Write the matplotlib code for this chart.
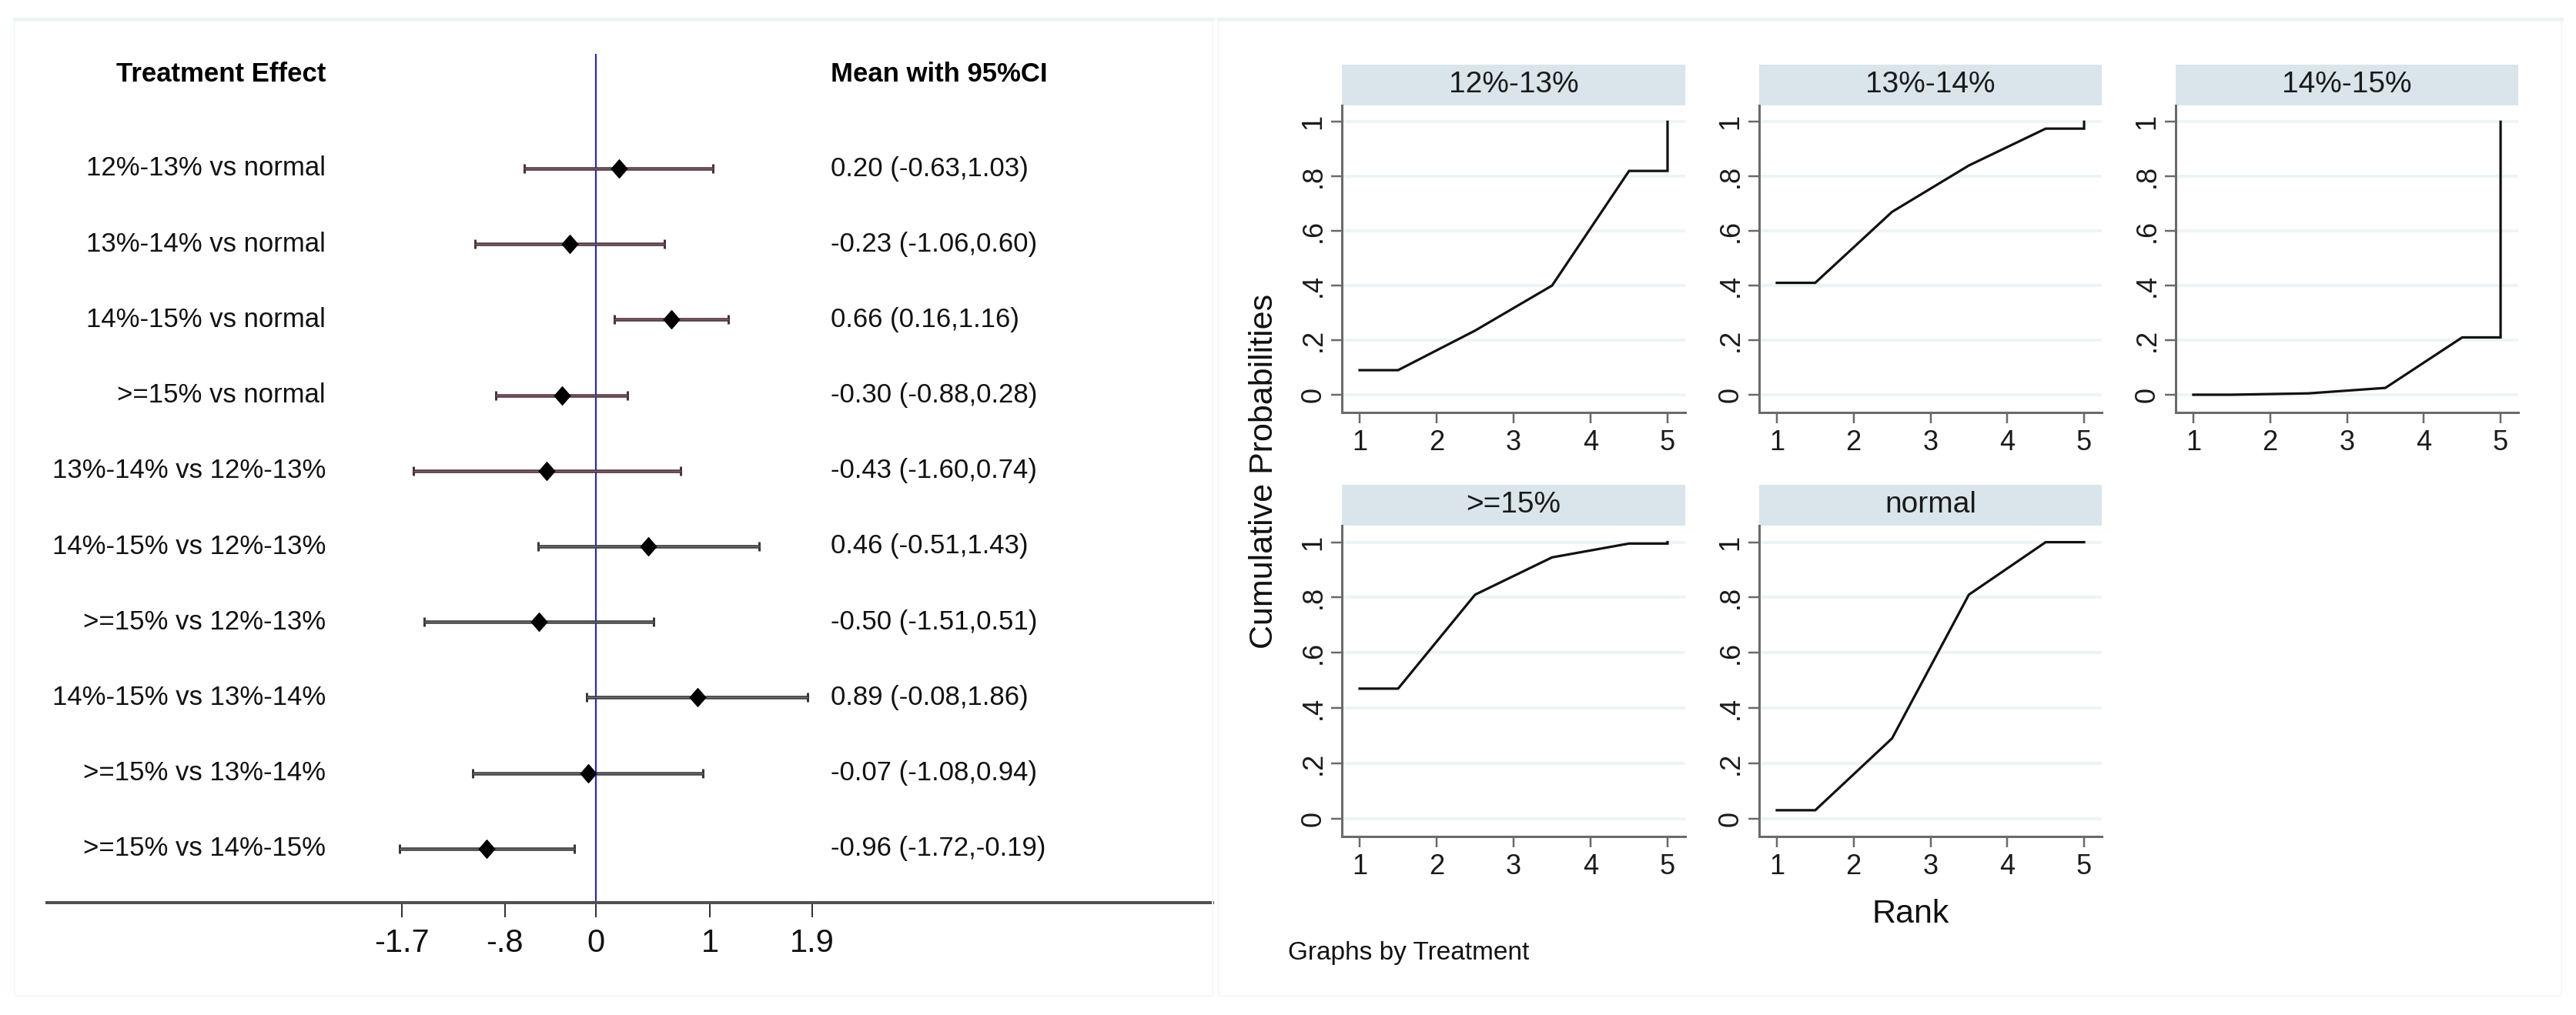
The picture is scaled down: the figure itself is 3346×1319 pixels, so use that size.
import numpy as np
import matplotlib
matplotlib.use("Agg")
import matplotlib.pyplot as plt
from matplotlib.patches import Rectangle
from matplotlib.path import Path

plt.rcParams["font.family"] = ["Liberation Sans", "DejaVu Sans"]

# Forest plot data (treatment effects, mean with 95% CI)
comparisons = [
    "12%-13% vs normal", "13%-14% vs normal", "14%-15% vs normal",
    ">=15% vs normal", "13%-14% vs 12%-13%", "14%-15% vs 12%-13%",
    ">=15% vs 12%-13%", "14%-15% vs 13%-14%", ">=15% vs 13%-14%",
    ">=15% vs 14%-15%",
]
mean = [0.20, -0.23, 0.66, -0.30, -0.43, 0.46, -0.50, 0.89, -0.07, -0.96]
lower = [-0.63, -1.06, 0.16, -0.88, -1.60, -0.51, -1.51, -0.08, -1.08, -1.72]
upper = [1.03, 0.60, 1.16, 0.28, 0.74, 1.43, 0.51, 1.86, 0.94, -0.19]
forest_ticks = [-1.7, -0.8, 0, 1, 1.9]
forest_tick_labels = ["-1.7", "-.8", "0", "1", "1.9"]

# Cumulative ranking probabilities (rank 1..5)
treatments = ["12%-13%", "13%-14%", "14%-15%", ">=15%", "normal"]
ranks = [1, 2, 3, 4, 5]
cum_prob = {
    "12%-13%": [0.09, 0.235, 0.40, 0.82, 1.0],
    "13%-14%": [0.41, 0.67, 0.84, 0.975, 1.0],
    "14%-15%": [0.0, 0.005, 0.025, 0.21, 1.0],
    ">=15%": [0.47, 0.81, 0.945, 0.995, 1.0],
    "normal": [0.03, 0.29, 0.81, 1.0, 1.0],
}
prob_ticks = [0, 0.2, 0.4, 0.6, 0.8, 1]
prob_tick_labels = ["0", ".2", ".4", ".6", ".8", "1"]

W, H = 3346, 1319
PT = 72 / 100  # points per pixel

fig = plt.figure(figsize=(W / 100, H / 100), dpi=100)
fig.patch.set_facecolor("white")


def rect(x0, y0, x1, y1):
    return [x0 / W, 1 - y1 / H, (x1 - x0) / W, (y1 - y0) / H]


# light panel borders
for x0, x1 in [(19, 1575), (1583, 3327)]:
    fig.patches.append(Rectangle((x0 / W, 1 - 1294 / H), (x1 - x0) / W, (1294 - 25) / H,
                                 transform=fig.transFigure, fill=False,
                                 edgecolor="#f3f8f8", lw=2 * PT))
    fig.add_artist(plt.Line2D([x0 / W, x1 / W], [1 - 25 / H, 1 - 25 / H],
                              transform=fig.transFigure, color="#edf4f4", lw=5 * PT))

# ---------------- Left: forest plot ----------------
ax = fig.add_axes(rect(61, 70, 1575, 1173))
ax.set_xlim((61 - 774) / 148, (1575 - 774) / 148)
ax.set_ylim((1173 - 219) / 98.2, (70 - 219) / 98.2)
ypos = np.arange(len(comparisons))

ax.axvline(0, color="#1a1aff", lw=2 * PT, zorder=1)

mean_a = np.array(mean)
err = [mean_a - np.array(lower), np.array(upper) - mean_a]
bar_colors = ["#4a3236"] * 5 + ["#383838"] * 5
for i in range(len(comparisons)):
    ax.errorbar(mean_a[i], ypos[i], xerr=[[err[0][i]], [err[1][i]]], fmt="none",
                ecolor=bar_colors[i], elinewidth=4.5 * PT, capsize=4,
                capthick=3 * PT, zorder=2)
inner = ["#8c6a70"] * 5 + ["#7a7a7a"] * 5
ax.hlines(ypos, lower, upper, colors=inner, lw=1.2 * PT, zorder=3)

diamond = Path([(0, 1), (0.87, 0), (0, -1), (-0.87, 0), (0, 1)],
               [Path.MOVETO, Path.LINETO, Path.LINETO, Path.LINETO, Path.CLOSEPOLY])
ax.plot(mean, ypos, linestyle="none", marker=diamond, markersize=17,
        color="black", zorder=4)

label_x = (423 - 774) / 148
value_x = (1079 - 774) / 148
fs = 25
for i, name in enumerate(comparisons):
    ax.text(label_x, i, name, ha="right", va="center", fontsize=fs, color="#111111")
    ax.text(value_x, i, f"{mean[i]:.2f} ({lower[i]:.2f},{upper[i]:.2f})",
            ha="left", va="center", fontsize=fs, color="#111111")
header_y = (97 - 219) / 98.2
ax.text(label_x, header_y, "Treatment Effect", ha="right", va="center",
        fontsize=fs, fontweight="bold", clip_on=False)
ax.text(value_x, header_y, "Mean with 95%CI", ha="left", va="center",
        fontsize=fs, fontweight="bold", clip_on=False)

for s in ["top", "left", "right"]:
    ax.spines[s].set_visible(False)
ax.spines["bottom"].set_color("#505050")
ax.spines["bottom"].set_linewidth(4 * PT)
ax.set_yticks([])
ax.set_xticks(forest_ticks)
ax.set_xticklabels(forest_tick_labels)
ax.tick_params(axis="x", length=19 * PT, width=2 * PT, color="#333333",
               labelsize=30, pad=10, labelcolor="#111111")
ax.patch.set_alpha(0)

# ---------------- Right: cumulative ranking plots ----------------
cols = [(1743, 2189), (2285, 2730), (2826, 3271)]
rows = [(84, 137, 536), (630, 683, 1087)]
r = np.array(ranks, dtype=float)
mids = (r[:-1] + r[1:]) / 2

for k, name in enumerate(treatments):
    row, col = divmod(k, 3)
    x0, x1 = cols[col]
    s0, p0, p1 = rows[row]
    # strip title
    sax = fig.add_axes(rect(x0, s0, x1, p0))
    sax.set_facecolor("#d9e5eb")
    sax.set_xticks([])
    sax.set_yticks([])
    for sp in sax.spines.values():
        sp.set_visible(False)
    sax.text(0.5, 0.5, name, ha="center", va="center", fontsize=28,
             color="#1a1a1a", transform=sax.transAxes)

    pax = fig.add_axes(rect(x0, p0, x1, p1))
    c = np.array(cum_prob[name])
    xs = np.r_[r[0], mids, r[-1], r[-1]]
    ys = np.r_[c[0], c[:-1], c[-2], c[-1]]
    pax.plot(xs, ys, color="#111111", lw=2.3, solid_joinstyle="miter")
    pax.set_xlim(0.77, 5.23)
    pax.set_ylim(-0.065, 1.06)
    pax.set_xticks(ranks)
    pax.set_yticks(prob_ticks)
    pax.set_yticklabels(prob_tick_labels, rotation=90, va="center")
    for yv in prob_ticks:
        pax.axhline(yv, color="#edf4f5", lw=4 * PT, zorder=0)
    for s in ["top", "right"]:
        pax.spines[s].set_visible(False)
    for s in ["left", "bottom"]:
        pax.spines[s].set_color("#6a6a6a")
        pax.spines[s].set_linewidth(3 * PT)
    pax.tick_params(axis="both", length=14 * PT, width=2.5 * PT, color="#6a6a6a",
                    labelsize=26, labelcolor="#1a1a1a")
    pax.tick_params(axis="x", pad=6)
    pax.tick_params(axis="y", pad=4)

fig.text(1642 / W, 1 - 612 / H, "Cumulative Probabilities", rotation=90,
         ha="center", va="center", fontsize=31, color="#111111")
fig.text(2482 / W, 1 - 1188 / H, "Rank", ha="center", va="center",
         fontsize=31, color="#111111")
fig.text(1673 / W, 1 - 1238 / H, "Graphs by Treatment", ha="left", va="center",
         fontsize=24, color="#111111")

fig.savefig("out.png", dpi=100)
